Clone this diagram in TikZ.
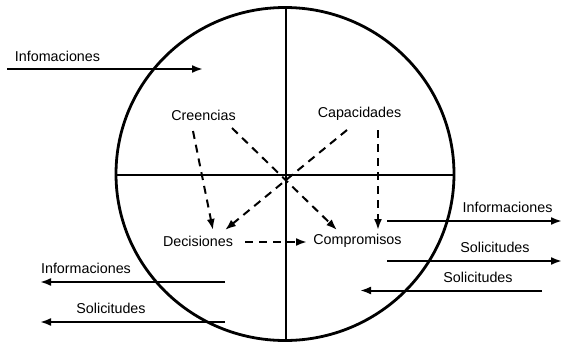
\documentclass[tikz,border=0pt]{standalone}
\usepackage{fontspec}
\setmainfont{Liberation Sans}
\usetikzlibrary{arrows.meta}
\begin{document}
\begin{tikzpicture}[x=1pt,y=-1pt,
  lbl/.style={inner sep=0pt,font=\fontsize{14.3}{16}\selectfont},
  flow/.style={line width=2pt,-{Latex[length=11pt,width=8pt]}},
  dflow/.style={line width=2pt,dash pattern=on 8pt off 6pt,-{Latex[length=11pt,width=8pt]}},
  frame/.style={line width=2.8pt}]
\useasboundingbox (0,0) rectangle (562,343);
% circle and axes
\draw[frame] (285,174) ellipse [x radius=169, y radius=166.5];
\coordinate (vt) at (286,7.5);
\coordinate (vb) at (286,340.5);
\coordinate (hl) at (116,175);
\coordinate (hr) at (454,175);
\draw[frame] (vt) -- (vb);
\draw[frame] (hl) -- (hr);
% inner labels
\node[lbl] (cre) at (203.5,115) {Creencias};
\node[lbl] (cap) at (359.5,114) {Capacidades};
\node[lbl] (dec) at (198,241) {Decisiones};
\node[lbl] (com) at (357.5,241) {Compromisos};
% dashed arrows
\coordinate (c1) at (193,131);
\coordinate (c1e) at (213,230);
\coordinate (c2) at (232,128);
\coordinate (c2e) at (337,230);
\coordinate (p1) at (347,130);
\coordinate (p1e) at (225,230);
\coordinate (p2) at (378,130);
\coordinate (p2e) at (378,230);
\coordinate (d1) at (245,242);
\coordinate (d1e) at (307,242);
\draw[dflow] (c1) -- (c1e);
\draw[dflow] (c2) -- (c2e);
\draw[dflow] (p1) -- (p1e);
\draw[dflow] (p2) -- (p2e);
\draw[dflow] (d1) -- (d1e);
% outer flows
\node[lbl] (inf1) at (57.5,56) {Infomaciones};
\coordinate (a1s) at (7,69);
\coordinate (a1e) at (203,69);
\draw[flow] (a1s) -- (a1e);
\node[lbl] (inf2) at (507.5,207) {Informaciones};
\coordinate (a2s) at (387,221);
\coordinate (a2e) at (562,221);
\draw[flow] (a2s) -- (a2e);
\node[lbl] (sol1) at (495,247) {Solicitudes};
\coordinate (a3s) at (387,261);
\coordinate (a3e) at (562,261);
\draw[flow] (a3s) -- (a3e);
\node[lbl] (sol2) at (478,277) {Solicitudes};
\coordinate (a4s) at (542,290.5);
\coordinate (a4e) at (360,290.5);
\draw[flow] (a4s) -- (a4e);
\node[lbl] (inf3) at (86,268) {Informaciones};
\coordinate (a5s) at (225,282);
\coordinate (a5e) at (40,282);
\draw[flow] (a5s) -- (a5e);
\node[lbl] (sol3) at (111,308) {Solicitudes};
\coordinate (a6s) at (225,322);
\coordinate (a6e) at (40,322);
\draw[flow] (a6s) -- (a6e);
\end{tikzpicture}
\end{document}
